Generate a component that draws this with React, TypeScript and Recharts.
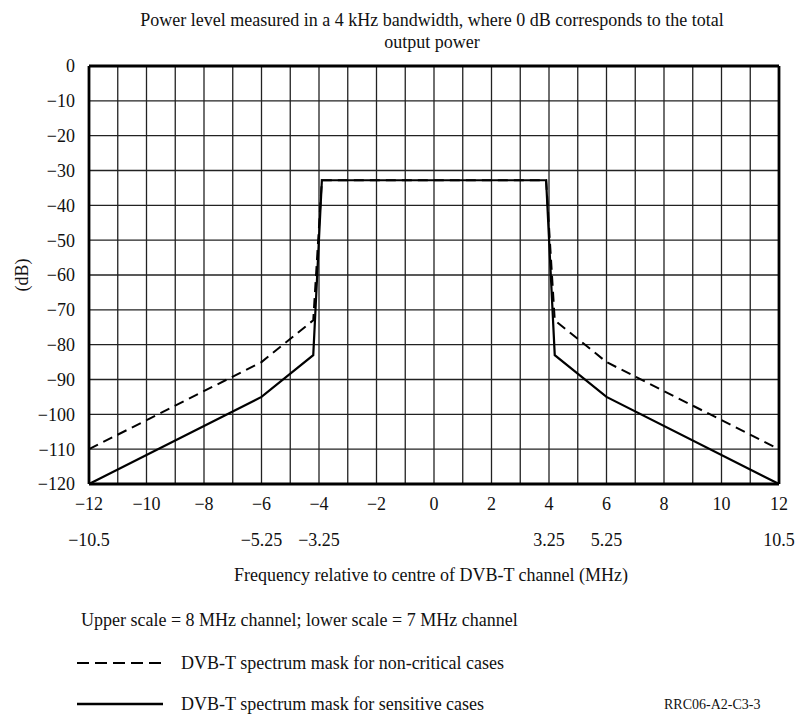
import { LineChart, Line, XAxis, YAxis, CartesianGrid, ReferenceLine } from "recharts";

// upper scale (8 MHz channel), MHz
const freqNonCritical = [-12, -6, -4.2, -3.9, 3.9, 4.2, 6, 12];
const levelNonCritical = [-110, -85, -73, -32.8, -32.8, -73, -85, -110];
const freqSensitive = [-12, -6, -4.2, -3.9, 3.9, 4.2, 6, 12];
const levelSensitive = [-120, -95, -83, -32.8, -32.8, -83, -95, -120];

const upperTicks = [-12, -10, -8, -6, -4, -2, 0, 2, 4, 6, 8, 10, 12];
// lower scale (7 MHz channel) labels, placed at these upper-scale positions
const lowerTicks = [-12, -6, -4, 4, 6, 12];
const lowerLabels = ["−10.5", "−5.25", "−3.25", "3.25", "5.25", "10.5"];
const yTicks = [0, -10, -20, -30, -40, -50, -60, -70, -80, -90, -100, -110, -120];
const gridX = [-12, -11, -10, -9, -8, -7, -6, -5, -4, -3, -2, -1, 0, 1, 2, 3, 4, 5, 6, 7, 8, 9, 10, 11, 12];

const nonCritical = freqNonCritical.map((f, i) => ({ f, db: levelNonCritical[i] }));
const sensitive = freqSensitive.map((f, i) => ({ f, db: levelSensitive[i] }));

const FONT = "'Liberation Serif', 'Times New Roman', serif";
const minus = (v: number) => (v < 0 ? "−" + Math.abs(v) : String(v));

const txt: React.CSSProperties = {
  position: "absolute",
  fontFamily: FONT,
  fontSize: 18,
  color: "#111",
  whiteSpace: "nowrap",
  lineHeight: "24px",
};

function FreqTick(props: any) {
  const { x, y, payload } = props;
  const idx = lowerTicks.indexOf(payload.value);
  return (
    <g>
      <text x={x} y={y + 20} textAnchor="middle" fontFamily={FONT} fontSize={18} fill="#111">
        {minus(payload.value)}
      </text>
      {idx >= 0 && (
        <text x={x} y={y + 56} textAnchor="middle" fontFamily={FONT} fontSize={18} fill="#111">
          {lowerLabels[idx]}
        </text>
      )}
    </g>
  );
}

export default function App() {
  return (
    <div style={{ position: "absolute", left: 0, top: 0, width: 802, height: 717, background: "#fff" }}>
      <LineChart
        width={802}
        height={717}
        margin={{ top: 66, right: 23, bottom: 203, left: 29 }}
      >
        <CartesianGrid
          stroke="#222"
          strokeWidth={1.3}
          verticalValues={gridX}
          horizontalValues={yTicks}
        />
        <XAxis
          dataKey="f"
          type="number"
          domain={[-12, 12]}
          ticks={upperTicks}
          tickLine={false}
          tickMargin={0}
          height={30}
          axisLine={{ stroke: "#000", strokeWidth: 2.8 }}
          tick={<FreqTick />}
          allowDuplicatedCategory={false}
        />
        <YAxis
          type="number"
          domain={[-120, 0]}
          ticks={yTicks}
          tickFormatter={minus}
          tickLine={false}
          tickMargin={8}
          width={60}
          axisLine={{ stroke: "#000", strokeWidth: 2.8 }}
          tick={{ fontFamily: FONT, fontSize: 18, fill: "#111" }}
        />
        <ReferenceLine y={0} stroke="#000" strokeWidth={2.8} />
        <ReferenceLine x={12} stroke="#000" strokeWidth={2.8} />
        <Line
          data={nonCritical}
          dataKey="db"
          type="linear"
          stroke="#000"
          strokeWidth={2}
          strokeDasharray="10 6"
          dot={false}
          isAnimationActive={false}
        />
        <Line
          data={sensitive}
          dataKey="db"
          type="linear"
          stroke="#000"
          strokeWidth={2.2}
          dot={false}
          isAnimationActive={false}
        />
      </LineChart>

      <div style={{ ...txt, left: 32, top: 8, width: 800, textAlign: "center" }}>
        Power level measured in a 4 kHz bandwidth, where 0 dB corresponds to the total
      </div>
      <div style={{ ...txt, left: 32, top: 30, width: 800, textAlign: "center" }}>
        output power
      </div>
      <div
        style={{
          ...txt,
          left: 0,
          top: 263,
          width: 44,
          textAlign: "center",
          transform: "rotate(-90deg)",
        }}
      >
        (dB)
      </div>
      <div style={{ ...txt, left: 31, top: 563, width: 800, textAlign: "center" }}>
        Frequency relative to centre of DVB-T channel (MHz)
      </div>
      <div style={{ ...txt, left: 81, top: 608 }}>
        Upper scale = 8 MHz channel; lower scale = 7 MHz channel
      </div>
      <svg style={{ position: "absolute", left: 76, top: 652 }} width={90} height={60}>
        <line x1={1} y1={11} x2={87} y2={11} stroke="#000" strokeWidth={2.2} strokeDasharray="12 6" />
        <line x1={1} y1={52} x2={87} y2={52} stroke="#000" strokeWidth={2.6} />
      </svg>
      <div style={{ ...txt, left: 181, top: 651 }}>DVB-T spectrum mask for non-critical cases</div>
      <div style={{ ...txt, left: 181, top: 692 }}>DVB-T spectrum mask for sensitive cases</div>
      <div style={{ ...txt, left: 664, top: 695, fontSize: 14, lineHeight: "20px" }}>RRC06-A2-C3-3</div>
    </div>
  );
}
